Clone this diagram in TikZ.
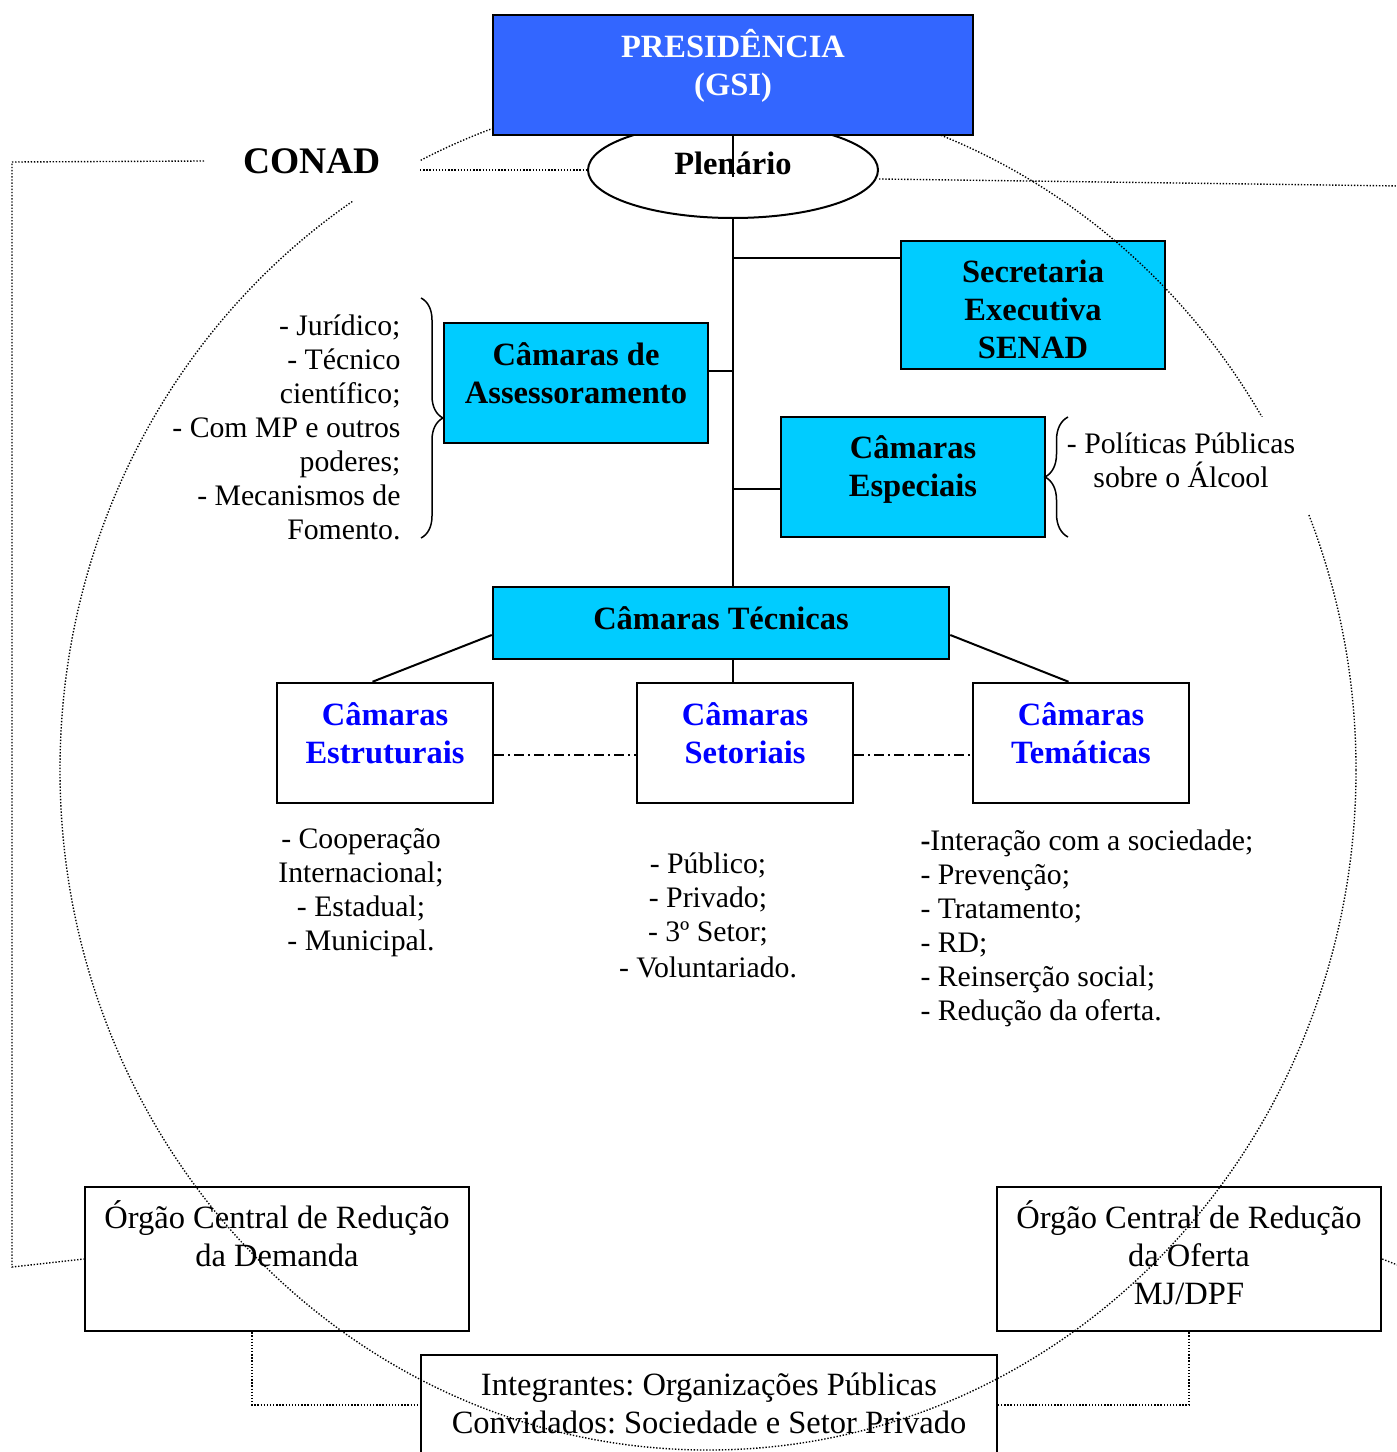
\documentclass[tikz,border=0pt]{standalone}
\usepackage{fontspec}
\setmainfont{Liberation Serif}
\usetikzlibrary{shapes.geometric,decorations.pathreplacing,backgrounds}
\definecolor{presblue}{HTML}{3366FF}
\definecolor{camcyan}{HTML}{00CCFF}
\definecolor{camblue}{HTML}{0000FF}
\frenchspacing

\begin{document}
\begin{tikzpicture}[x=0.4pt, y=-0.4pt,
  box/.style={draw, line width=1pt, inner sep=0pt},
  camara/.style={box, fill=camcyan, minimum width=105.6pt, minimum height=48pt},
  sub/.style={box, minimum width=86.4pt, minimum height=48pt},
  orgao/.style={box, minimum width=153.6pt, minimum height=57.6pt},
  ttl/.style={anchor=north, align=center, inner sep=0pt, font=\fontsize{13}{15.2}\selectfont\bfseries, execute at begin node=\strut},
  txt/.style={anchor=north, align=center, inner sep=0pt, font=\fontsize{13}{15.2}\selectfont, execute at begin node=\strut},
  lista/.style={inner sep=0pt, font=\fontsize{11.9}{13.6}\selectfont, execute at begin node=\strut},
  link/.style={line width=0.8pt},
  pontos/.style={line width=0.55pt, dash pattern=on 0.55pt off 0.7pt},
  traco/.style={line width=0.6pt, dash pattern=on 4pt off 1.6pt on 0.8pt off 1.6pt},
  chave/.style={line width=0.6pt, decorate, decoration={brace, amplitude=#1}}]
\useasboundingbox (0,0) rectangle (1396,1452);

\node[box, ellipse, fill=white, line width=0.8pt, minimum width=116pt, minimum height=38.4pt, font=\fontsize{13}{15.2}\selectfont\bfseries, text height=9.4pt, text depth=6.2pt] (plen) at (733,170) {Plenário};

\node[camara, minimum height=51.2pt] (secr) at (1033,305) {};
\node[ttl] (secrtxt) at ([yshift=-7.8pt]secr.north) {Secretaria\\Executiva\\SENAD};
\node[camara] (assess) at (576,383) {};
\node[ttl] (assesstxt) at ([yshift=-8.2pt]assess.north) {Câmaras de\\Assessoramento};
\node[camara] (espec) at (913,477) {};
\node[ttl] (espectxt) at ([yshift=-7.8pt]espec.north) {Câmaras\\Especiais};
\node[camara, minimum width=182.4pt, minimum height=28.8pt, font=\fontsize{13}{15.2}\selectfont\bfseries, text height=9.5pt, text depth=4.7pt] (tecn) at (721,623) {Câmaras Técnicas};

\node[sub] (estr) at (385,743) {};
\node[ttl, text=camblue] (estrtxt) at ([yshift=-8.2pt]estr.north) {Câmaras\\Estruturais};
\node[sub] (setor) at (745,743) {};
\node[ttl, text=camblue] (setortxt) at ([yshift=-8.2pt]setor.north) {Câmaras\\Setoriais};
\node[sub] (temat) at (1081,743) {};
\node[ttl, text=camblue] (tematxt) at ([yshift=-8.2pt]temat.north) {Câmaras\\Temáticas};

\node[lista, anchor=north east, align=right] (assesslst) at (401,314) {- Jurídico;\\- Técnico\\científico;\\- Com MP e outros\\poderes;\\- Mecanismos de\\Fomento.};
\node[lista, anchor=north, align=center] (estrlst) at (361,828) {- Cooperação\\Internacional;\\- Estadual;\\- Municipal.};
\node[lista, anchor=north, align=center] (setorlst) at (708,852) {- Público;\\- Privado;\\- 3º Setor;\\[1pt]- Voluntariado.};
\node[lista, anchor=north west, align=left] (tematlst) at (920,829) {\textbf{-}Interação com a sociedade;\\- Prevenção;\\- Tratamento;\\- RD;\\- Reinserção social;\\- Redução da oferta.};

\node[orgao] (demanda) at (277,1259) {};
\node[txt] (demandatxt) at ([yshift=-5.8pt]demanda.north) {Órgão Central de Redução\\da Demanda};
\node[orgao] (oferta) at (1189,1259) {};
\node[txt] (ofertatxt) at ([yshift=-5.8pt]oferta.north) {Órgão Central de Redução\\da Oferta\\MJ/DPF};
\node[box, minimum width=230.4pt, minimum height=40pt] (integr) at (709,1405) {};
\node[txt] (integrtxt) at ([yshift=-7.6pt]integr.north) {Integrantes: Organizações Públicas\\Convidados: Sociedade e Setor Privado};

\draw[pontos] (708,770) ellipse [x radius=259.2pt, y radius=272pt];

\node[box, fill=presblue, minimum width=192pt, minimum height=48pt] (presid) at (733,75) {};
\node[ttl, text=white] (presidtxt) at ([yshift=-6pt]presid.north) {PRESIDÊNCIA\\(GSI)};
\node[fill=white, minimum width=86pt, minimum height=32pt, inner sep=0pt, font=\fontsize{15}{18}\selectfont\bfseries] (conad) at (312,161) {CONAD};
\node[lista, fill=white, minimum width=104.8pt, minimum height=38.8pt, align=center] (alcool) at (1181,465) {- Políticas Públicas\\sobre o Álcool};

\draw[chave=8.8pt] (421,298) -- (421,538);
\draw[chave=9.2pt] (1068,537) -- (1068,417);

\draw[link] (presid.south) -- ([yshift=-2.8pt]plen.center);

\begin{scope}[on background layer]
\draw[link] (plen.south) -- (plen.south |- tecn.north);
\draw[link] ([yshift=18.8pt]secr.west) -| (plen.south);
\draw[link] ([yshift=4.8pt]assess.east) -| (plen.south);
\draw[link] ([yshift=-4.8pt]espec.west) -| (plen.south);
\draw[link] (plen.south |- tecn.south) -- (plen.south |- setor.north);
\draw[link] ([yshift=-4.8pt]tecn.west) -- ([xshift=-5pt]estr.north);
\draw[link] ([yshift=-4.8pt]tecn.east) -- ([xshift=-5pt]temat.north);
\draw[traco] ([yshift=-4.8pt]estr.east) -- ([yshift=-4.8pt]setor.west);
\draw[traco] ([yshift=-4.8pt]setor.east) -- ([yshift=-4.8pt]temat.west);

\coordinate (esq1) at (12,162);
\coordinate (esq2) at (12,1267);
\coordinate (dir1) at (1400,186);
\coordinate (dir2) at (1400,1266);
\draw[pontos] (conad.west) -- (esq1) -- (esq2) -- (demanda.west);
\draw[pontos] (conad.east |- plen.west) -- (plen.west);
\draw[pontos] ([yshift=-3.6pt]plen.east) -- (dir1);
\draw[pontos] (oferta.east) -- (dir2);
\draw[pontos] ([xshift=-10pt]demanda.south) |- (integr.west);
\draw[pontos] (oferta.south) |- (integr.east);
\end{scope}

\end{tikzpicture}
\end{document}
